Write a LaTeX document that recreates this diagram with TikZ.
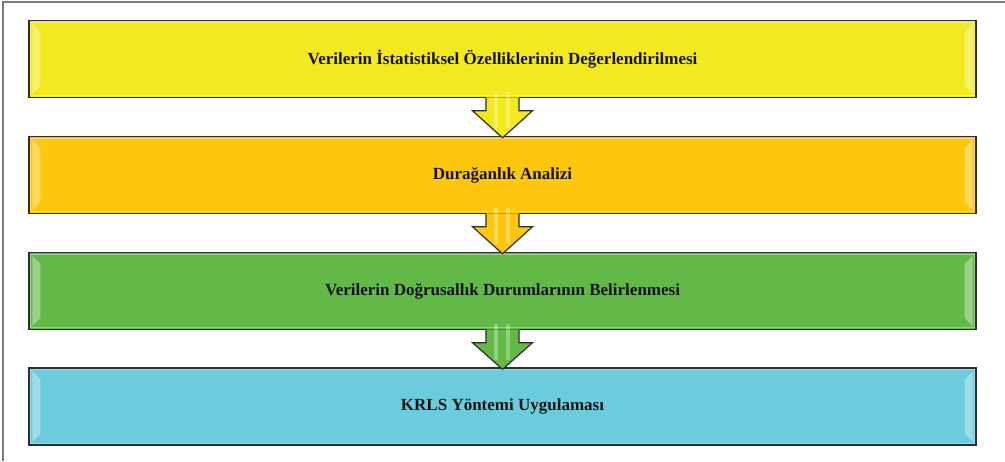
\documentclass[tikz,border=0pt]{standalone}
\usepackage{fontspec}
\setmainfont{Liberation Serif}
\usetikzlibrary{calc}
\definecolor{cA}{HTML}{F2EA1E}
\definecolor{cB}{HTML}{FEC60C}
\definecolor{cC}{HTML}{63B947}
\definecolor{cD}{HTML}{6ACCDC}
\definecolor{frame}{HTML}{7A7A7A}
\definecolor{edge}{HTML}{2E2E2E}
\tikzset{
  stagebox/.style={draw=edge, line width=1.4pt, minimum width=947pt, minimum height=77pt,
    inner sep=0pt, font=\fontsize{17}{20}\selectfont\bfseries, text=black!92},
  flowarrowstyle/.style={draw=edge, line width=1.2pt, line join=miter},
  shine/.style={fill=white, fill opacity=0.35, draw=none},
}
\newcommand{\bevel}[1]{%
  \fill[shine] ($(#1.north west)+(4,-4)$) -- ($(#1.north west)+(12,-12)$) -- ($(#1.south west)+(12,12)$) -- ($(#1.south west)+(4,4)$) -- cycle;
  \fill[shine] ($(#1.north east)+(-4,-4)$) -- ($(#1.north east)+(-12,-12)$) -- ($(#1.south east)+(-12,12)$) -- ($(#1.south east)+(-4,4)$) -- cycle;
  \draw[white, opacity=0.35, line width=1.2pt] ($(#1.north west)+(2.5,-2.5)$) rectangle ($(#1.south east)+(-2.5,2.5)$);
}
\newcommand{\flowarrow}[3]{%
  \fill[#3] ($(#1.south)+(-16.5,0.7)$) -- ($(#1.south)+(-16.5,-12.5)$) -- ($(#1.south)+(-30,-12.5)$) -- ($(#2.north)+(0,-2)$) -- ($(#1.south)+(30,-12.5)$) -- ($(#1.south)+(16.5,-12.5)$) -- ($(#1.south)+(16.5,0.7)$) -- cycle;
  \draw[flowarrowstyle] ($(#1.south)+(-16.5,0)$) -- ($(#1.south)+(-16.5,-12.5)$) -- ($(#1.south)+(-30,-12.5)$) -- ($(#2.north)+(0,-2)$) -- ($(#1.south)+(30,-12.5)$) -- ($(#1.south)+(16.5,-12.5)$) -- ($(#1.south)+(16.5,0)$);
  \fill[white, opacity=0.3] ($(#1.south)+(-9,6)$) rectangle ($(#1.south)+(-5,-30)$);
  \fill[white, opacity=0.3] ($(#1.south)+(3,6)$) rectangle ($(#1.south)+(7,-30)$);
}
\begin{document}
\begin{tikzpicture}[x=1pt,y=1pt]
\useasboundingbox (0,0) rectangle (1005,461);
\draw[frame, line width=1.5pt] (3,0) -- (3,459) -- (1005,459);
\node[stagebox, fill=cA] (s1) at (502.5,402) {Verilerin İstatistiksel Özelliklerinin Değerlendirilmesi};
\node[stagebox, fill=cB] (s2) at (502.5,286) {Durağanlık Analizi};
\node[stagebox, fill=cC] (s3) at (502.5,170) {Verilerin Doğrusallık Durumlarının Belirlenmesi};
\node[stagebox, fill=cD] (s4) at (502.5,54.5) {KRLS Yöntemi Uygulaması};
\bevel{s1}\bevel{s2}\bevel{s3}\bevel{s4}
\flowarrow{s1}{s2}{cA}
\flowarrow{s2}{s3}{cB}
\flowarrow{s3}{s4}{cC}
\end{tikzpicture}
\end{document}
